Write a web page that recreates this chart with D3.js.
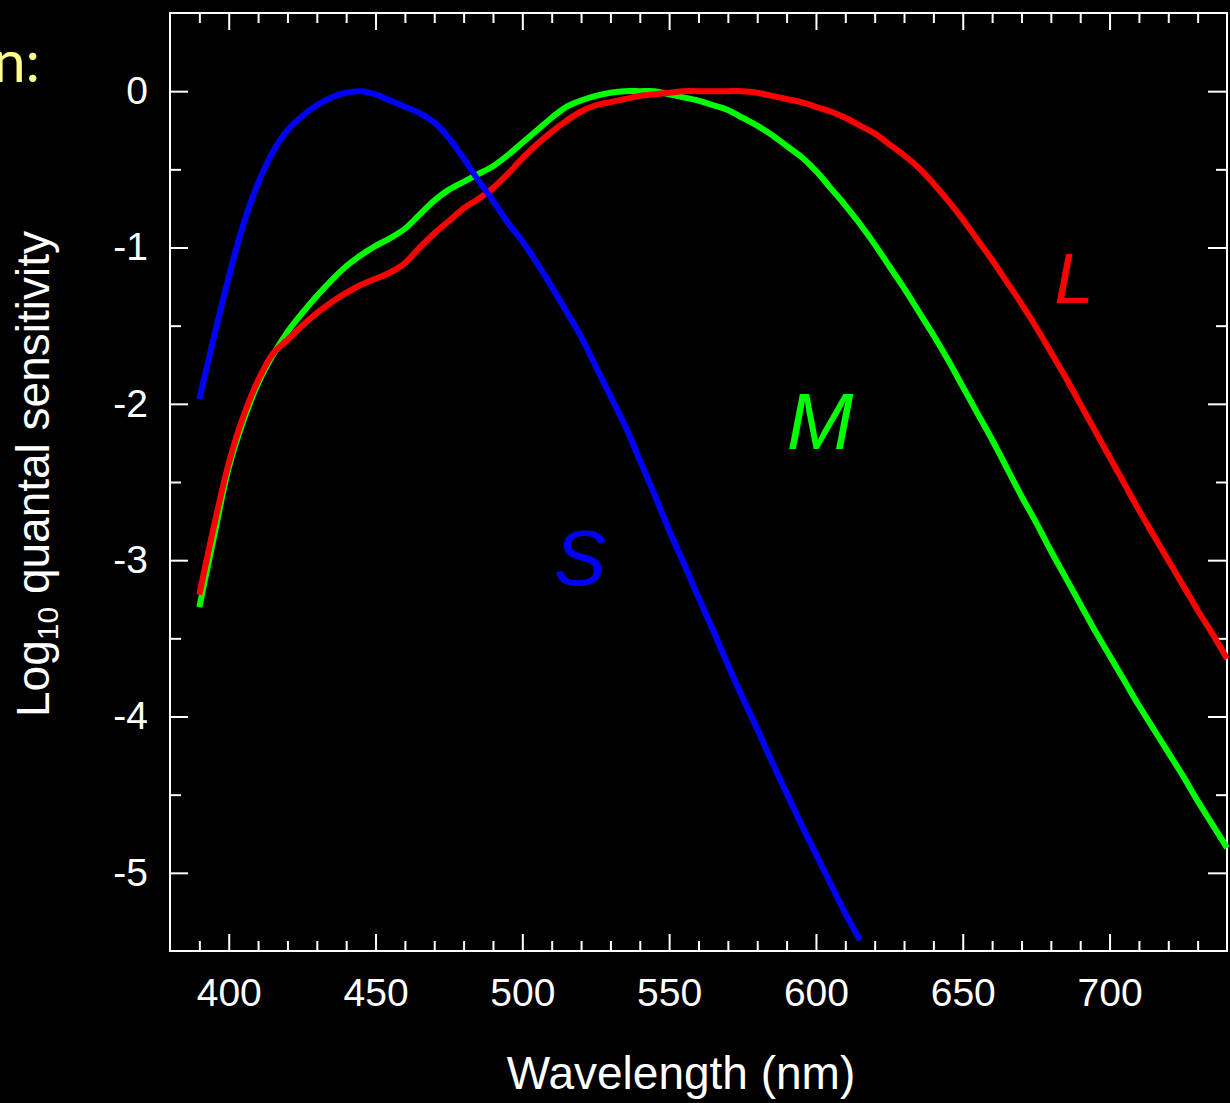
<!DOCTYPE html>
<html>
<head>
<meta charset="utf-8">
<script src="https://cdn.jsdelivr.net/npm/d3@7"></script>
<style>
  html, body { margin: 0; padding: 0; background: #000; }
  svg { display: block; }
</style>
</head>
<body>
<div id="chart"></div>
<script>
// cone fundamentals, log10 quantal sensitivity
var wlS = [390,395,400,405,410,415,420,425,430,435,440,445,450,455,460,465,470,475,480,485,490,495,500,505,510,515,520,525,530,535,540,545,550,555,560,565,570,575,580,585,590,595,600,605,610,615];
var sVals = [-1.97,-1.57,-1.19,-0.85,-0.59,-0.39,-0.25,-0.16,-0.09,-0.04,-0.01,0.00,-0.02,-0.06,-0.10,-0.14,-0.20,-0.30,-0.43,-0.57,-0.70,-0.84,-0.96,-1.10,-1.25,-1.41,-1.57,-1.76,-1.95,-2.14,-2.36,-2.58,-2.81,-3.02,-3.24,-3.45,-3.67,-3.88,-4.08,-4.29,-4.49,-4.69,-4.88,-5.07,-5.26,-5.43];

var wlML = [390,395,400,405,410,415,420,425,430,435,440,445,450,455,460,465,470,475,480,485,490,495,500,505,510,515,520,525,530,535,540,545,550,555,560,565,570,575,580,585,590,595,600,605,610,615,620,625,630,635,640,645,650,655,660,665,670,675,680,685,690,695,700,705,710,715,720,725,730,735,740];
var mVals = [-3.30,-2.85,-2.41,-2.11,-1.87,-1.69,-1.54,-1.42,-1.31,-1.21,-1.12,-1.05,-0.99,-0.94,-0.88,-0.79,-0.70,-0.63,-0.58,-0.53,-0.48,-0.41,-0.33,-0.25,-0.17,-0.10,-0.06,-0.03,-0.01,0.00,0.00,0.00,-0.02,-0.04,-0.06,-0.09,-0.12,-0.17,-0.22,-0.28,-0.35,-0.42,-0.51,-0.62,-0.73,-0.85,-0.98,-1.12,-1.26,-1.41,-1.56,-1.72,-1.89,-2.06,-2.23,-2.41,-2.59,-2.76,-2.94,-3.11,-3.28,-3.45,-3.61,-3.77,-3.93,-4.08,-4.23,-4.38,-4.54,-4.69,-4.84];
var lVals = [-3.22,-2.78,-2.38,-2.08,-1.85,-1.68,-1.59,-1.50,-1.42,-1.35,-1.29,-1.24,-1.20,-1.16,-1.10,-1.00,-0.91,-0.83,-0.75,-0.69,-0.62,-0.53,-0.43,-0.34,-0.26,-0.19,-0.13,-0.09,-0.07,-0.05,-0.03,-0.02,-0.01,0.00,0.00,0.00,0.00,0.00,-0.01,-0.03,-0.05,-0.07,-0.10,-0.13,-0.17,-0.22,-0.27,-0.34,-0.41,-0.49,-0.59,-0.70,-0.82,-0.95,-1.08,-1.22,-1.36,-1.51,-1.67,-1.83,-2.00,-2.17,-2.34,-2.51,-2.68,-2.84,-3.00,-3.16,-3.32,-3.47,-3.63];

var xMajor = [400,450,500,550,600,650,700];
var xMinor = [390,410,420,430,440,460,470,480,490,510,520,530,540,560,570,580,590,610,620,630,640,660,670,680,690,710,720,730];
var yMajor = [0,-1,-2,-3,-4,-5];
var yMinor = [-0.5,-1.5,-2.5,-3.5,-4.5];

var W = 1230, H = 1103;
var pL = 170, pR = 1227, pT = 13, pB = 951;   // plot box

var svg = d3.select("#chart")
.append("svg")
.attr("width", W)
.attr("height", H);

svg.append("rect").attr("width", W).attr("height", H).attr("fill", "#000");

var x = d3.scaleLinear().domain([380, 740]).range([pL, pR]);
var y = d3.scaleLinear().domain([-5.5, 0.5]).range([pB, pT]);

var font = "'Liberation Sans', Arial, sans-serif";
var plain = function(d) { return String(d); };   // keep hyphen minus like the original

// axes, ticks pointing inward on all four sides
function styleAxis(g) {
  g.select(".domain").remove();
  g.selectAll("line").attr("stroke", "#fff").attr("stroke-width", 2);
  g.selectAll("text").attr("fill", "#fff").attr("font-family", font).attr("font-size", 39);
}

svg.append("g").attr("transform", "translate(0," + pB + ")")
.call(d3.axisBottom(x).tickValues(xMajor).tickSize(-17).tickPadding(27).tickFormat(plain))
.call(styleAxis);
svg.append("g").attr("transform", "translate(0," + pB + ")")
.call(d3.axisBottom(x).tickValues(xMinor).tickSize(-10).tickFormat(""))
.call(styleAxis);
svg.append("g").attr("transform", "translate(0," + pT + ")")
.call(d3.axisTop(x).tickValues(xMajor).tickSize(-17).tickFormat(""))
.call(styleAxis);
svg.append("g").attr("transform", "translate(0," + pT + ")")
.call(d3.axisTop(x).tickValues(xMinor).tickSize(-10).tickFormat(""))
.call(styleAxis);

svg.append("g").attr("transform", "translate(" + pL + ",0)")
.call(d3.axisLeft(y).tickValues(yMajor).tickSize(-18).tickPadding(22).tickFormat(plain))
.call(styleAxis);
svg.append("g").attr("transform", "translate(" + pL + ",0)")
.call(d3.axisLeft(y).tickValues(yMinor).tickSize(-11).tickFormat(""))
.call(styleAxis);
svg.append("g").attr("transform", "translate(" + pR + ",0)")
.call(d3.axisRight(y).tickValues(yMajor).tickSize(-19).tickFormat(""))
.call(styleAxis);
svg.append("g").attr("transform", "translate(" + pR + ",0)")
.call(d3.axisRight(y).tickValues(yMinor).tickSize(-11).tickFormat(""))
.call(styleAxis);

// frame
svg.append("rect")
.attr("x", pL).attr("y", pT)
.attr("width", pR - pL).attr("height", pB - pT)
.attr("fill", "none").attr("stroke", "#fff").attr("stroke-width", 2);

// curves
var line = d3.line()
.x(function(d) { return x(d[0]); })
.y(function(d) { return y(d[1]); })
.curve(d3.curveCatmullRom.alpha(0.5));

var curves = [
  { wl: wlML, v: mVals, color: "#00ff00" },
  { wl: wlML, v: lVals, color: "#ff0000" },
  { wl: wlS, v: sVals, color: "#0000ff" }
];

curves.forEach(function(c) {
  svg.append("path")
  .attr("d", line(d3.zip(c.wl, c.v)))
  .attr("fill", "none")
  .attr("stroke", c.color)
  .attr("stroke-width", 6)
  .attr("stroke-linejoin", "round");
});

// curve labels
svg.append("text").attr("x", 580).attr("y", 585).attr("text-anchor", "middle")
.attr("font-family", font).attr("font-style", "italic").attr("font-size", 78)
.attr("fill", "#0000ff").text("S");
svg.append("text").attr("x", 820).attr("y", 449).attr("text-anchor", "middle")
.attr("font-family", font).attr("font-style", "italic").attr("font-size", 80)
.attr("fill", "#00ff00").text("M");
svg.append("text").attr("x", 1074).attr("y", 303).attr("text-anchor", "middle")
.attr("font-family", font).attr("font-style", "italic").attr("font-size", 70)
.attr("fill", "#ff0000").text("L");

// axis titles
svg.append("text").attr("x", 681).attr("y", 1089).attr("text-anchor", "middle")
.attr("font-family", font).attr("font-size", 46).attr("fill", "#fff")
.text("Wavelength (nm)");

var yt = svg.append("text")
.attr("transform", "translate(49,474) rotate(-90)")
.attr("text-anchor", "middle")
.attr("font-family", font).attr("font-size", 46).attr("fill", "#fff");
yt.append("tspan").text("Log");
yt.append("tspan").attr("font-size", 30).attr("dy", 9).text("10");
yt.append("tspan").attr("dy", -9).text(" quantal sensitivity");

// leftover slide text
svg.append("text").attr("x", 40).attr("y", 82).attr("text-anchor", "end")
.attr("font-family", "Lato, 'Open Sans', sans-serif").attr("font-size", 58)
.attr("fill", "#ffff8c").text("n:");
</script>
</body>
</html>
